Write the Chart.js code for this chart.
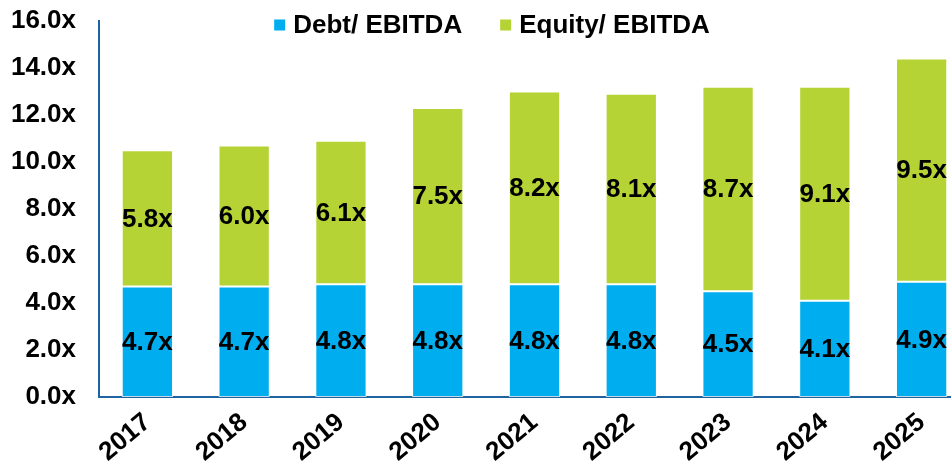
<!DOCTYPE html>
<html>
<head>
<meta charset="utf-8">
<script src="https://cdn.jsdelivr.net/npm/chart.js@4"></script>
<style>
  html, body { margin: 0; padding: 0; overflow: hidden; background: #fff; }
  #wrap { width: 970px; height: 461px; }
</style>
</head>
<body>
<div id="wrap"><canvas id="grafico"></canvas></div>
<script>
// Dados do gráfico
const anos = ['2017', '2018', '2019', '2020', '2021', '2022', '2023', '2024', '2025'];
const dividaEbitda = [4.7, 4.7, 4.8, 4.8, 4.8, 4.8, 4.5, 4.1, 4.9];
const equityEbitda = [5.8, 6.0, 6.1, 7.5, 8.2, 8.1, 8.7, 9.1, 9.5];
const nomesSeries = ['Debt/ EBITDA', 'Equity/ EBITDA'];
const cores = ['#00aeef', '#b5d334'];

const familia = '"Liberation Sans", Arial, sans-serif';
const corEixo = '#1f64a0';

// Rótulos dentro das barras
const pluginRotulos = {
    id: 'rotulos',
    afterDatasetsDraw(chart) {
        const ctx = chart.ctx;
        ctx.save();
        ctx.font = 'bold 26px ' + familia;
        ctx.fillStyle = '#000';
        ctx.textAlign = 'center';
        ctx.textBaseline = 'middle';
        chart.data.datasets.forEach((ds, i) => {
            chart.getDatasetMeta(i).data.forEach((bar, j) => {
                ctx.fillText(ds.data[j].toFixed(1) + 'x', bar.x, (bar.y + bar.base) / 2 + 1);
            });
        });
        ctx.restore();
    }
};

// Legenda desenhada por cima (sobrepõe a área do gráfico)
const pluginLegenda = {
    id: 'legendaTopo',
    afterDraw(chart) {
        const ctx = chart.ctx;
        ctx.save();
        ctx.font = 'bold 26px ' + familia;
        ctx.textBaseline = 'middle';
        const caixa = 11, gap = 8, entre = 38;
        const larguras = chart.data.datasets.map(ds => ctx.measureText(ds.label).width);
        const total = larguras.reduce((a, w) => a + caixa + gap + w, 0) + entre;
        let x = 492 - total / 2;
        const y = 25;
        chart.data.datasets.forEach((ds, i) => {
            ctx.fillStyle = ds.backgroundColor;
            ctx.fillRect(x, y - caixa / 2, caixa, caixa);
            x += caixa + gap;
            ctx.fillStyle = '#000';
            ctx.fillText(ds.label, x, y + 1);
            x += larguras[i] + entre;
        });
        ctx.restore();
    }
};

new Chart(document.getElementById('grafico'), {
    type: 'bar',
    data: {
        labels: anos,
        datasets: [
            { label: nomesSeries[0], data: dividaEbitda, backgroundColor: cores[0] },
            { label: nomesSeries[1], data: equityEbitda, backgroundColor: cores[1] }
        ].map(ds => Object.assign(ds, {
            borderColor: 'rgba(255,255,255,0.75)',
            borderWidth: 1,
            borderSkipped: false,
            barPercentage: 0.53,
            categoryPercentage: 1
        }))
    },
    options: {
        responsive: true,
        maintainAspectRatio: false,
        animation: false,
        layout: { padding: { top: 21, left: 0, right: 0, bottom: 0 } },
        plugins: {
            legend: { display: false },
            tooltip: { enabled: false }
        },
        scales: {
            x: {
                stacked: true,
                grid: { display: false, drawTicks: false },
                border: { display: true, color: corEixo, width: 2 },
                ticks: {
                    color: '#000',
                    font: { family: familia, size: 26, weight: 'bold' },
                    maxRotation: 40,
                    minRotation: 40,
                    padding: 10
                },
                afterFit: s => { s.height = 64; }
            },
            y: {
                stacked: true,
                min: 0,
                max: 16,
                grid: { display: false, drawTicks: false },
                border: { display: true, color: corEixo, width: 2 },
                ticks: {
                    stepSize: 2,
                    color: '#000',
                    padding: 23,
                    font: { family: familia, size: 26, weight: 'bold' },
                    callback: v => v.toFixed(1) + 'x'
                },
                afterFit: s => { s.width = 99; s.paddingTop = 0; s.paddingBottom = 0; }
            }
        }
    },
    plugins: [pluginRotulos, pluginLegenda]
});
</script>
</body>
</html>
